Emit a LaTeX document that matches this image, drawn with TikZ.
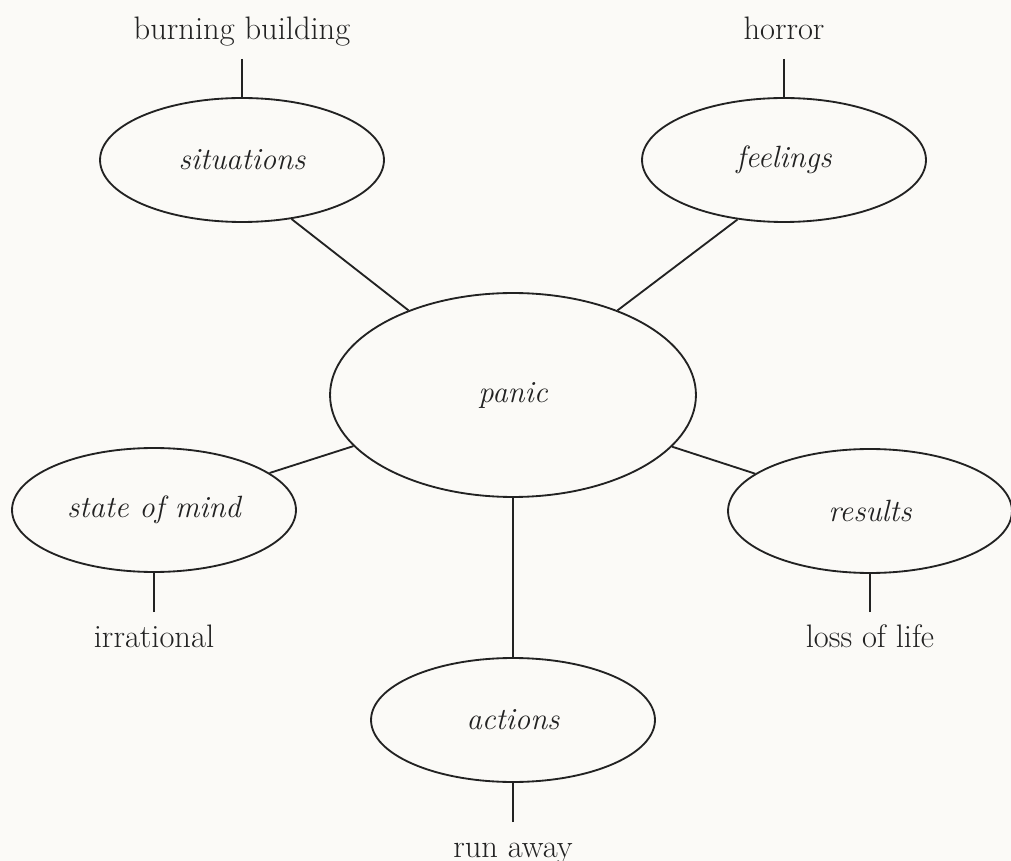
\documentclass[tikz,border=0pt]{standalone}
\usetikzlibrary{shapes.geometric}
\definecolor{paper}{HTML}{FBFAF7}
\definecolor{ink}{HTML}{222222}
\begin{document}
\begin{tikzpicture}[x=0.02cm,y=-0.02cm,line width=1.05pt,color=ink,
  every node/.style={font=\fontsize{18.5}{22}\selectfont},
  topic/.style={draw,ellipse,inner sep=0pt,minimum width=5.68cm,minimum height=2.48cm,
    font=\fontsize{17.5}{21}\selectfont\itshape},
  hub/.style={topic,minimum width=7.32cm,minimum height=4.08cm},
  leaf/.style={anchor=base,inner xsep=2pt,inner ysep=0.24cm,text height=0.44cm,text depth=0.12cm}]
\useasboundingbox (0,0) rectangle (1011,861);
\fill[paper] (0,0) rectangle (1011,861);
% centre and the five topics
\node[hub] (panic) at (513,395) {panic};
\node[topic] (sit) at (242,160) {situations};
\node[topic] (feel) at (784,160) {feelings};
\node[topic] (mind) at (154,510) {state of mind};
\node[topic] (res) at (870,511) {results};
\node[topic] (act) at (513,720) {actions};
% examples
\node[leaf] (burn) at (242,40) {burning building};
\node[leaf] (horror) at (784,40) {horror};
\node[leaf] (irr) at (154,647) {irrational};
\node[leaf] (loss) at (870,647) {loss of life};
\node[leaf] (run) at (513,857) {run away};
% links
\draw (sit.-50) -- (panic.141);
\draw (feel.232) -- (panic.39);
\foreach \a/\b in {mind/panic,res/panic,act/panic,
  burn/sit,horror/feel,irr/mind,loss/res,run/act}
  \draw (\a) -- (\b);
\end{tikzpicture}
\end{document}
